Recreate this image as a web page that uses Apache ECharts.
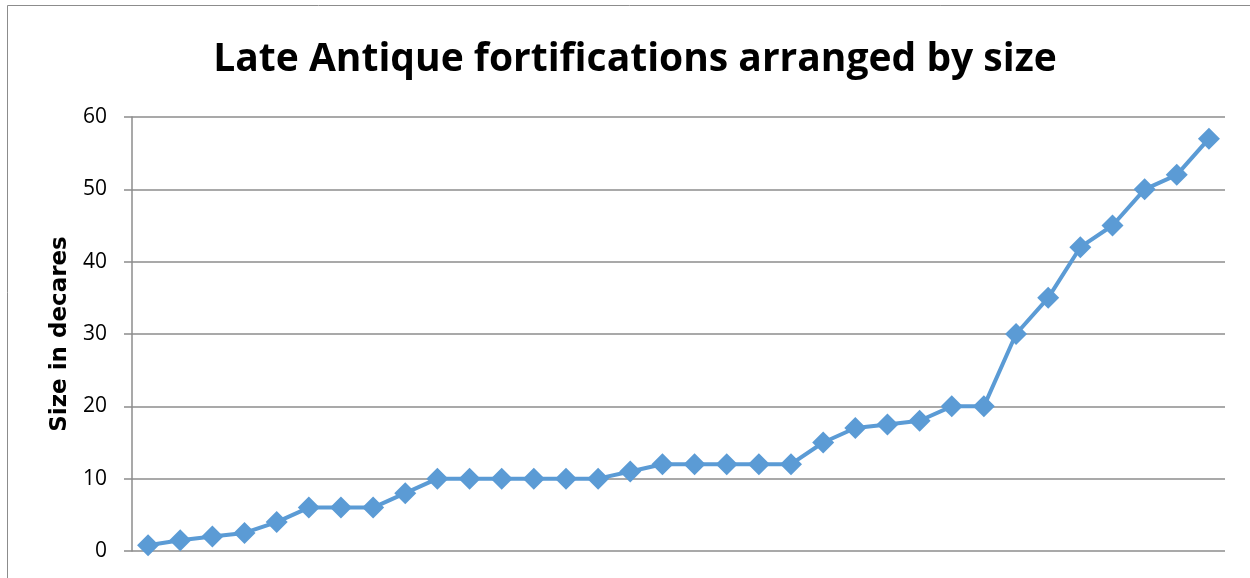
<!DOCTYPE html>
<html>
<head>
<meta charset="utf-8">
<script src="https://cdn.jsdelivr.net/npm/echarts@6/dist/echarts.min.js"></script>
<style>
  html, body { margin: 0; padding: 0; background: #fff; }
  #chart { width: 1250px; height: 578px; }
</style>
</head>
<body>
<div id="chart"></div>
<script>
// Fortification sites, ordered from smallest to largest
const sites = Array.from({ length: 34 }, (_, i) => 'Site ' + (i + 1));
// Enclosed area of each site, in decares
const sizes = [0.8, 1.5, 2, 2.5, 4, 6, 6, 6, 8, 10, 10, 10, 10, 10, 10, 11, 12, 12, 12, 12, 12,
               15, 17, 17.5, 18, 20, 20, 30, 35, 42, 45, 50, 52, 57];
const yTicks = [0, 10, 20, 30, 40, 50, 60];

const chart = echarts.init(document.getElementById('chart'), null, { renderer: 'canvas' });
chart.setOption({
  animation: false,
  backgroundColor: '#fff',
  graphic: [{
    type: 'rect',
    shape: { x: 7.5, y: 5.5, width: 1300, height: 700 },
    style: { fill: 'none', stroke: '#8c8c8c', lineWidth: 1 },
    silent: true
  }],
  title: {
    text: 'Late Antique fortifications arranged by size',
    left: 630, top: 35, textAlign: 'center',
    textStyle: { fontFamily: 'Open Sans', fontWeight: 'bold', fontSize: 39, color: '#000' }
  },
  grid: { left: 132, right: 25, top: 117, bottom: 27, containLabel: false },
  xAxis: {
    type: 'category',
    data: sites,
    boundaryGap: true,
    axisLine: { show: false },
    axisTick: { show: false },
    axisLabel: { show: false },
    splitLine: { show: false }
  },
  yAxis: {
    type: 'value',
    min: yTicks[0], max: yTicks[yTicks.length - 1], interval: 10,
    name: 'Size in decares',
    nameLocation: 'middle',
    nameGap: 60,
    nameTextStyle: { fontFamily: 'DejaVu Sans', fontWeight: 'bold', fontSize: 23, color: '#000' },
    axisLine: { show: true, lineStyle: { color: '#8c8c8c', width: 1.5 } },
    axisTick: { show: true, inside: false, length: 8, lineStyle: { color: '#8c8c8c', width: 1.5 } },
    axisLabel: { margin: 25, fontFamily: 'Open Sans', fontSize: 21, color: '#000' },
    splitLine: { show: true, lineStyle: { color: '#8c8c8c', width: 1.5 } }
  },
  series: [{
    type: 'line',
    data: sizes,
    symbol: 'diamond',
    symbolSize: 22,
    showSymbol: true,
    showAllSymbol: true,
    lineStyle: { color: '#5b9bd5', width: 4 },
    itemStyle: { color: '#5b9bd5' }
  }]
});
</script>
</body>
</html>
